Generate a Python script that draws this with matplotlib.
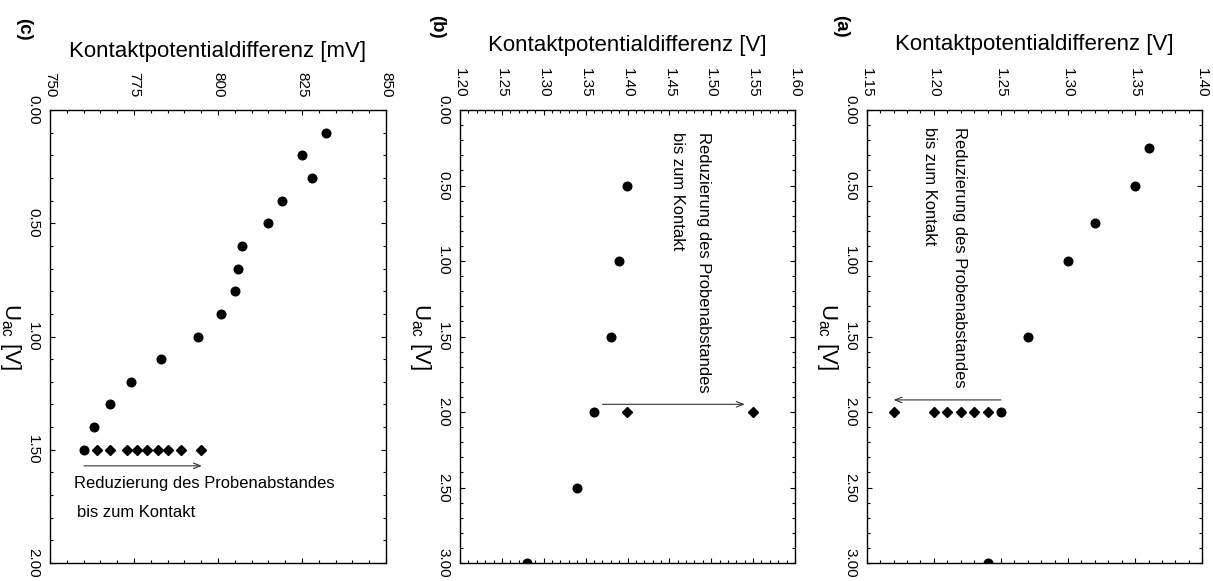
import matplotlib
matplotlib.use('Agg')
import matplotlib.pyplot as plt
from matplotlib.ticker import MultipleLocator, FormatStrFormatter

plt.rcParams['font.family'] = ['Liberation Sans', 'DejaVu Sans']
plt.rcParams['mathtext.fontset'] = 'custom'
plt.rcParams['mathtext.rm'] = 'Liberation Sans'
plt.rcParams['mathtext.it'] = 'Liberation Sans:italic'

# ---------------- data ----------------
# panel (c): Kontaktpotentialdifferenz in mV vs U_ac
c_uac_circles = [0.1, 0.2, 0.3, 0.4, 0.5, 0.6, 0.7, 0.8, 0.9, 1.0, 1.1, 1.2, 1.3, 1.4, 1.5]
c_kpd_circles = [832, 825, 828, 819, 815, 807, 806, 805, 801, 794, 783, 774, 768, 763, 760]
c_uac_diamonds = [1.5, 1.5, 1.5, 1.5, 1.5, 1.5, 1.5, 1.5, 1.5]
c_kpd_diamonds = [764, 768, 773, 776, 779, 782, 785, 789, 795]

# panel (b): Kontaktpotentialdifferenz in V vs U_ac
b_uac_circles = [0.5, 1.0, 1.5, 2.0, 2.5, 3.0]
b_kpd_circles = [1.40, 1.39, 1.38, 1.36, 1.34, 1.28]
b_uac_diamonds = [2.0, 2.0]
b_kpd_diamonds = [1.40, 1.55]

# panel (a): Kontaktpotentialdifferenz in V vs U_ac
a_uac_circles = [0.25, 0.5, 0.75, 1.0, 1.5, 2.0, 3.0]
a_kpd_circles = [1.36, 1.35, 1.32, 1.30, 1.27, 1.25, 1.24]
a_uac_diamonds = [2.0, 2.0, 2.0, 2.0, 2.0, 2.0]
a_kpd_diamonds = [1.24, 1.23, 1.22, 1.21, 1.20, 1.17]

panel_labels = ['(c)', '(b)', '(a)']
kpd_labels = ['Kontaktpotentialdifferenz [mV]', 'Kontaktpotentialdifferenz [V]',
              'Kontaktpotentialdifferenz [V]']
uac_label = r'U$_{\mathrm{ac}}$ [V]'
note_line1 = 'Reduzierung des Probenabstandes'
note_line2 = 'bis zum Kontakt'

# ---------------- figure ----------------
W, H = 1213, 581
fig = plt.figure(figsize=(W / 100, H / 100), dpi=100)


def fx(px):
    return px / W


def fy(py):
    return 1 - py / H


top_px, bot_px = 110, 563
rects = {
    'c': (50, 386),
    'b': (460, 795),
    'a': (866.7, 1202.3),
}


def make_ax(key):
    l, r = rects[key]
    return fig.add_axes([fx(l), fy(bot_px), (r - l) / W, (bot_px - top_px) / H])


def setup(ax, xlim, xmaj, xmin, xfmt, ylim, ymaj, ymin):
    ax.set_xlim(*xlim)
    ax.set_ylim(ylim[1], ylim[0])
    ax.xaxis.set_major_locator(MultipleLocator(xmaj))
    ax.xaxis.set_minor_locator(MultipleLocator(xmin))
    ax.yaxis.set_major_locator(MultipleLocator(ymaj))
    ax.yaxis.set_minor_locator(MultipleLocator(ymin))
    ax.xaxis.set_major_formatter(FormatStrFormatter(xfmt))
    ax.yaxis.set_major_formatter(FormatStrFormatter('%.2f'))
    ax.tick_params(which='both', direction='in', top=True, bottom=True, left=True,
                   right=True, labeltop=True, labelbottom=False, labelleft=True,
                   labelright=False, width=0.8, color='black')
    ax.tick_params(which='major', length=3.6)
    ax.tick_params(which='minor', length=2.0)
    ax.tick_params(axis='x', labelrotation=-90, pad=9, labelsize=11)
    ax.tick_params(axis='y', labelrotation=-90, pad=7, labelsize=11)
    for s in ax.spines.values():
        s.set_linewidth(1.0)
    plt.setp(ax.get_yticklabels(), va='center')


mk = dict(color='black', linestyle='none')
arrow_props = dict(arrowstyle='->,head_length=0.5,head_width=0.2', lw=0.8,
                   color='#333333', shrinkA=0, shrinkB=0)
note_fs = 11.9

# panel (c)
axc = make_ax('c')
axc.plot(c_kpd_circles, c_uac_circles, marker='o', markersize=6.2, **mk)
axc.plot(c_kpd_diamonds, c_uac_diamonds, marker='D', markersize=4.8, **mk)
setup(axc, (750, 850), 25, 5, '%d', (0, 2), 0.5, 0.1)
axc.annotate('', xy=(795.2, 1.571), xytext=(760.1, 1.571), arrowprops=arrow_props)
axc.text(757.1, 1.65, note_line1, fontsize=note_fs, ha='left', va='center')
axc.text(758.1, 1.777, note_line2, fontsize=note_fs, ha='left', va='center')

# panel (b)
axb = make_ax('b')
axb.plot(b_kpd_circles, b_uac_circles, marker='o', markersize=6.2, **mk)
axb.plot(b_kpd_diamonds, b_uac_diamonds, marker='D', markersize=4.8, **mk)
setup(axb, (1.20, 1.60), 0.05, 0.01, '%.2f', (0, 3), 0.5, 0.1)
axb.annotate('', xy=(1.540, 1.949), xytext=(1.370, 1.949), arrowprops=arrow_props)
axb.text(1.491, 0.144, note_line1, fontsize=note_fs, rotation=-90, ha='center', va='top')
axb.text(1.460, 0.144, note_line2, fontsize=note_fs, rotation=-90, ha='center', va='top')

# panel (a)
axa = make_ax('a')
axa.plot(a_kpd_circles, a_uac_circles, marker='o', markersize=6.2, **mk)
axa.plot(a_kpd_diamonds, a_uac_diamonds, marker='D', markersize=4.8, **mk)
setup(axa, (1.15, 1.40), 0.05, 0.01, '%.2f', (0, 3), 0.5, 0.1)
axa.annotate('', xy=(1.17, 1.92), xytext=(1.25, 1.92), arrowprops=arrow_props)
axa.text(1.2188, 0.11, note_line1, fontsize=note_fs, rotation=-90, ha='center', va='top')
axa.text(1.197, 0.11, note_line2, fontsize=note_fs, rotation=-90, ha='center', va='top')

# axis titles, U_ac labels and panel labels
baselines = [57.3, 51, 50]
panel_pos = [(24, 29), (437, 27), (841, 26)]
for i, key in enumerate(['c', 'b', 'a']):
    l, r = rects[key]
    fig.text(fx((l + r) / 2), fy(baselines[i]), kpd_labels[i], fontsize=16,
             ha='center', va='baseline')
    fig.text(fx(l - 27), fy((top_px + bot_px) / 2), uac_label, fontsize=16,
             rotation=-90, ha='right', va='center')
    fig.text(fx(panel_pos[i][0]), fy(panel_pos[i][1]), panel_labels[i], fontsize=13.5,
             fontweight='bold', rotation=-90, ha='center', va='center')

fig.savefig('out.png', dpi=100)
